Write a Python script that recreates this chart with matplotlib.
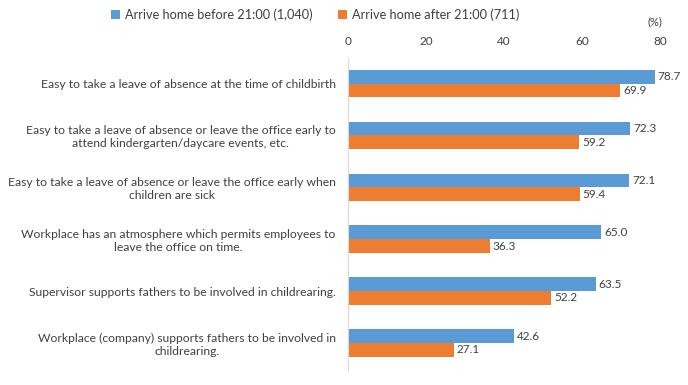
import numpy as np
import matplotlib.pyplot as plt

categories = [
    "Easy to take a leave of absence at the time of childbirth",
    "Easy to take a leave of absence or leave the office early to\nattend kindergarten/daycare events, etc.",
    "Easy to take a leave of absence or leave the office early when\nchildren are sick",
    "Workplace has an atmosphere which permits employees to\nleave the office on time.",
    "Supervisor supports fathers to be involved in childrearing.",
    "Workplace (company) supports fathers to be involved in\nchildrearing.",
]
before = [78.7, 72.3, 72.1, 65.0, 63.5, 42.6]
after = [69.9, 59.2, 59.4, 36.3, 52.2, 27.1]
series_names = ["Arrive home before 21:00 (1,040)", "Arrive home after 21:00 (711)"]
xticks = [0, 20, 40, 60, 80]

plt.rcParams['font.family'] = ['Lato', 'DejaVu Sans']
txt = '#404040'

fig = plt.figure(figsize=(6.88, 3.85), dpi=100)
ax = fig.add_axes([0.506, 0.039, 0.453, 0.81])

y = np.arange(len(categories))
h = 0.265
b1 = ax.barh(y - h / 2, before, height=h, color='#5B9BD5', label=series_names[0])
b2 = ax.barh(y + h / 2, after, height=h, color='#ED7D31', label=series_names[1])

for bars, vals in [(b1, before), (b2, after)]:
    for r, v in zip(bars, vals):
        ax.text(v + 0.8, r.get_y() + r.get_height() / 2, f"{v:.1f}",
                va='center', ha='left', fontsize=8.5, color=txt)

ax.set_xlim(0, 80)
ax.set_ylim(len(categories) - 0.48, -0.49)
ax.set_xticks(xticks)
ax.xaxis.tick_top()
ax.tick_params(axis='x', length=0, labelsize=8.5, labelcolor=txt, pad=8)
ax.set_yticks(y)
ax.set_yticklabels(categories, fontsize=8.7, color=txt, multialignment='center')
ax.tick_params(axis='y', length=0, pad=9)
for s in ['top', 'right', 'bottom']:
    ax.spines[s].set_visible(False)
ax.spines['left'].set_color('#D9D9D9')

fig.text(0.952, 0.943, "(%)", fontsize=8, color=txt, ha='center', va='center')
fig.legend(handles=[b1, b2], loc='center', bbox_to_anchor=(0.458, 0.961), ncol=2,
           frameon=False, fontsize=9.2, handlelength=0.7, handleheight=0.7,
           columnspacing=2.0, handletextpad=0.4, labelcolor=txt)

fig.savefig('out.png', dpi=100)
